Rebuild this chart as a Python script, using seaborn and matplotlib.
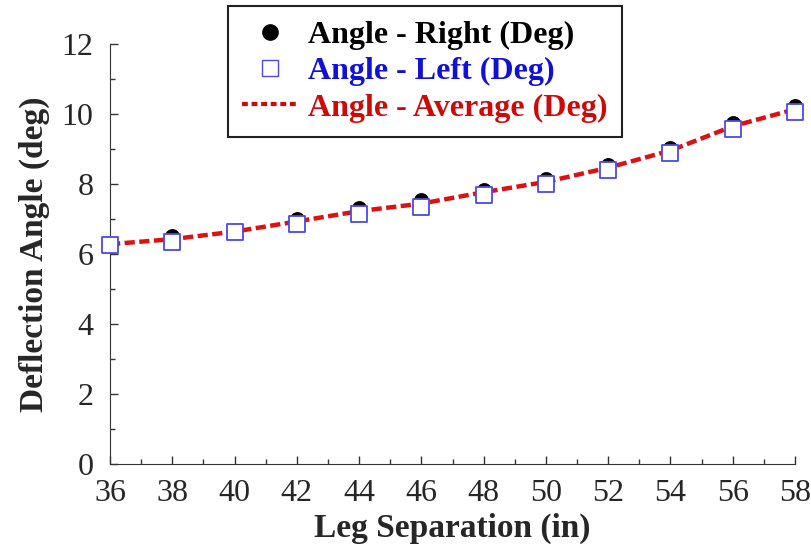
import numpy as np
import pandas as pd
import seaborn as sns
import matplotlib.pyplot as plt
from matplotlib.lines import Line2D
from matplotlib.ticker import MultipleLocator

separation = [36, 38, 40, 42, 44, 46, 48, 50, 52, 54, 56, 58]
angle_right = [6.30, 6.52, 6.66, 7.01, 7.31, 7.53, 7.84, 8.13, 8.53, 9.03, 9.73, 10.22]
angle_left = [6.26, 6.33, 6.62, 6.85, 7.14, 7.35, 7.69, 7.99, 8.40, 8.88, 9.57, 10.05]
labels = ['Angle - Right (Deg)', 'Angle - Left (Deg)', 'Angle - Average (Deg)']
label_colors = ['black', '#1010d8', '#cc0a0a']

df = pd.DataFrame({'sep': separation, 'right': angle_right, 'left': angle_left})
df['avg'] = (df['right'] + df['left']) / 2

sns.set_style('ticks')
plt.rcParams['font.family'] = ['Liberation Serif', 'DejaVu Serif']
plt.rcParams['xtick.direction'] = 'in'
plt.rcParams['ytick.direction'] = 'in'

fig = plt.figure(figsize=(8.12, 5.48), dpi=100)
ax = fig.add_axes([110 / 812, 84 / 548, 685 / 812, 420 / 548])

sns.scatterplot(data=df, x='sep', y='right', ax=ax, marker='o', s=115,
                color='black', edgecolor='black', linewidth=0, zorder=3, clip_on=False)
sns.lineplot(data=df, x='sep', y='avg', ax=ax, color='#dd1111', linewidth=3.2,
             zorder=4, clip_on=False)
ax.lines[-1].set_dashes([2.3, 1.0])
sns.scatterplot(data=df, x='sep', y='left', ax=ax, marker='s', s=135,
                facecolor='white', edgecolor='#4a4ae8', linewidth=1.3, zorder=5, clip_on=False)

ax.set_xlim(36, 58)
ax.set_ylim(0, 12)
ax.xaxis.set_major_locator(MultipleLocator(2))
ax.xaxis.set_minor_locator(MultipleLocator(1))
ax.yaxis.set_major_locator(MultipleLocator(2))
ax.yaxis.set_minor_locator(MultipleLocator(1))
ax.tick_params(which='major', length=6, width=1, color='#333333', labelsize=23)
ax.tick_params(axis='x', which='major', pad=11)
ax.tick_params(axis='y', which='major', pad=12)
ax.tick_params(which='minor', length=3.5, width=1, color='#333333')
for s in ['left', 'bottom']:
    ax.spines[s].set_color('#333333')
sns.despine(ax=ax)

ax.set_xlabel('Leg Separation (in)', fontsize=24, fontweight='bold', labelpad=3)
ax.set_ylabel('Deflection Angle (deg)', fontsize=24, fontweight='bold', labelpad=8)

handles = [
    Line2D([], [], marker='o', color='black', linestyle='none', markersize=11),
    Line2D([], [], marker='s', markerfacecolor='white', markeredgecolor='#4a4ae8',
           linestyle='none', markersize=11, markeredgewidth=1),
    Line2D([], [], color='#cc0a0a', linewidth=3, dashes=[1.4, 0.9]),
]
leg = ax.legend(handles, labels, loc='upper left', bbox_to_anchor=(228 / 812, 1 - 6 / 548),
                bbox_transform=fig.transFigure, borderaxespad=0, fancybox=False,
                edgecolor='#222222', framealpha=1, prop={'size': 23, 'weight': 'bold'},
                handlelength=1.75, handletextpad=0.3, labelspacing=0.22, borderpad=0.45)
leg.get_frame().set_linewidth(1.5)
for t, c in zip(leg.get_texts(), label_colors):
    t.set_color(c)

fig.savefig('out.png', dpi=100)
